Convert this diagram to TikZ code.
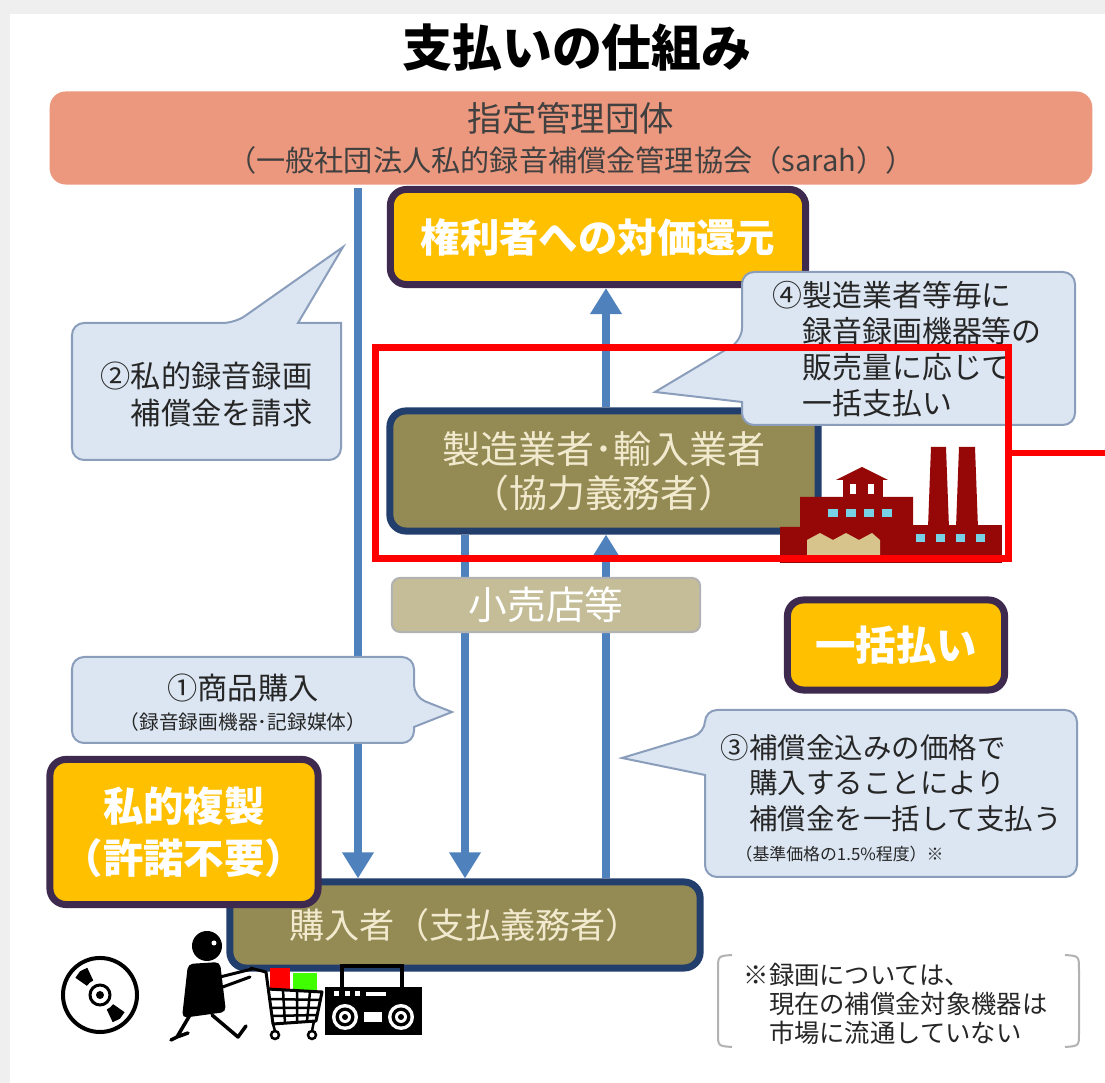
\documentclass[tikz,border=0pt]{standalone}
\usepackage{fontspec}
\setmainfont{Noto Sans CJK JP}
\usepackage{tikz}
\usetikzlibrary{positioning}
\usetikzlibrary{arrows.meta}
\definecolor{salmon}{RGB}{236,152,126}
\definecolor{gold}{RGB}{255,192,0}
\definecolor{plum}{RGB}{62,42,78}
\definecolor{olivebox}{RGB}{148,138,84}
\definecolor{navyline}{RGB}{34,62,108}
\definecolor{cream}{RGB}{242,234,206}
\definecolor{shopfill}{RGB}{196,189,151}
\definecolor{talkfill}{RGB}{220,230,242}
\definecolor{talkline}{RGB}{138,158,188}
\definecolor{flowblue}{RGB}{79,129,189}
\definecolor{factory}{RGB}{150,8,8}
\definecolor{window}{RGB}{120,210,230}
\definecolor{wall}{RGB}{215,196,140}
\definecolor{frame}{RGB}{239,239,239}

\begin{document}
\begin{tikzpicture}[x=0.01cm, y=-0.01cm,
box/.style={rounded corners=0.16cm, line width=0.07cm, align=center, inner sep=0},
goldbox/.style={box, fill=gold, draw=plum, text=white},
olive/.style={box, fill=olivebox, draw=navyline, text=cream},
talk/.style={fill=talkfill, draw=talkline, line width=0.02cm},
flow/.style={draw=flowblue, line width=0.07cm, -{Triangle[width=0.3cm,length=0.26cm]}}]
\useasboundingbox (0,0) rectangle (1105,1083);
\fill[frame] (0,0) rectangle (1105,1083);
\fill[white] (10,14) rectangle (1105,1083);

\node[font=\fontsize{14.2}{16}\selectfont\bfseries] (title) at (577,48) {支払いの仕組み};

% boxes
\node[box, fill=salmon, draw=none, text=black!75, minimum width=10.42cm, minimum height=0.93cm,
  font=\fontsize{8.3}{11.4}\selectfont] (sarah) at (571,138)
  {{\fontsize{9.8}{11.4}\selectfont 指定管理団体}\\（一般社団法人私的録音補償金管理協会（sarah））};
\node[goldbox, minimum width=4.15cm, minimum height=0.95cm, font=\fontsize{11.2}{13}\selectfont\bfseries] (kenri) at (598,237) {権利者への対価還元};
\node[olive, minimum width=4.28cm, minimum height=1.2cm, font=\fontsize{10.8}{12.5}\selectfont] (maker) at (604,471) {製造業者･輸入業者\\（協力義務者）};
\node[olive, minimum width=4.7cm, minimum height=0.86cm, font=\fontsize{10}{12}\selectfont] (buyer) at (465,925) {購入者（支払義務者）};

% money and goods
\coordinate (c1) at (358,0);
\coordinate (c2) at (465,0);
\coordinate (c3) at (606,0);
\draw[flow] (c1 |- sarah.south) -- (c1 |- buyer.north);
\draw[flow] (c2 |- maker.south) -- (c2 |- buyer.north);
\draw[flow] (c3 |- buyer.north) -- (c3 |- maker.south);
\draw[flow] (c3 |- maker.north) -- (c3 |- kenri.south);

\node[box, line width=0.02cm, fill=shopfill, draw=gray!60, text=white, rounded corners=0.08cm,
  minimum width=3.08cm, minimum height=0.54cm, font=\fontsize{11}{13}\selectfont] (shop) at (546,605) {小売店等};
\node[goldbox, minimum width=2.17cm, minimum height=0.9cm, font=\fontsize{11.5}{14}\selectfont\bfseries] (lump) at (896,645) {一括払い};
\node[goldbox, minimum width=2.68cm, minimum height=1.45cm, font=\fontsize{11.5}{14.8}\selectfont\bfseries] (private) at (184,832) {私的複製\\（許諾不要）};

% callouts
\draw[talk] (72,390) [rounded corners=0.12cm] |- (235,323) [sharp corners] -- (343,247) -- (298,323) -- (341,323) [rounded corners=0.12cm] |- (72,460) -- cycle;
\node[anchor=west, align=left, inner sep=0, text=black!85, font=\fontsize{8.6}{10.5}\selectfont] (claim) at (100,394) {②私的録音録画\\　補償金を請求};

\draw[talk] (900,272) [rounded corners=0.12cm] -| (742,340) [sharp corners] -- (655,392) -- (742,402) -- (742,404) [rounded corners=0.12cm] |- (1075,425) |- (890,272) -- cycle;
\node[anchor=west, align=left, inner sep=0, text=black!85, font=\fontsize{8.5}{10.2}\selectfont] (payout) at (772,349) {④製造業者等毎に\\　録音録画機器等の\\　販売量に応じて\\　一括支払い};

\draw[talk] (240,657) [rounded corners=0.12cm] -| (414,697) [sharp corners] -- (452,712) -- (414,727) -- (414,729) [rounded corners=0.12cm] |- (72,743) |- (230,657) -- cycle;
\node[align=center, inner sep=0, text=black!85, font=\fontsize{5.6}{8.5}\selectfont] (goods) at (243,703) {{\fontsize{8.6}{8.5}\selectfont ①商品購入}\\（録音録画機器･記録媒体）};

\draw[talk] (890,710) [rounded corners=0.12cm] -| (705,733) [sharp corners] -- (622,758) -- (705,775) -- (705,777) [rounded corners=0.12cm] |- (1077,877) |- (880,710) -- cycle;
\node[anchor=west, align=left, inner sep=0, text=black!85, font=\fontsize{8.1}{10.2}\selectfont] (price) at (720,798) {③補償金込みの価格で\\　購入することにより\\　補償金を一括して支払う\\[-1.5pt]{\fontsize{4.8}{6}\selectfont\hspace*{0.15cm}（基準価格の1.5\%程度）※}};

% factory
\fill[factory] (931,447) -- (946,447) -- (949,528) -- (928,528) -- cycle;
\fill[factory] (959,447) -- (975,447) -- (978,528) -- (956,528) -- cycle;
\fill[factory] (913,525) rectangle (1002,560);
\fill[factory] (800,497) -- (913,497) -- (913,560) -- (780,560) -- (780,527) -- (800,527) -- cycle;
\fill[factory] (843,478) rectangle (883,500);
\fill[factory] (836,480) -- (862,467) -- (888,480) -- cycle;
\fill[white] (850,484) rectangle (856,494);
\fill[white] (868,484) rectangle (874,494);
\fill[wall] (807,560) -- (807,540) -- (820,533) -- (833,540) -- (846,533) -- (859,540) -- (872,533) -- (880,540) -- (880,560) -- cycle;
\fill[factory] (780,555) rectangle (1002,563);
\foreach \wx in {828,846,864,882} \fill[window] (\wx,509) rectangle ++(10,8);
\foreach \wx in {916,936,956,976} \fill[window] (\wx,534) rectangle ++(9,8);

% CD
\begin{scope}[shift={(100,995)}]
\draw[line width=0.04cm] (0,0) circle (0.37cm);
\draw[line width=0.03cm] (0,0) circle (0.1cm);
\fill (0,0) circle (0.04cm);
\fill (115:0.16cm) -- (115:0.3cm) -- (130:0.31cm) -- (145:0.3cm) -- (145:0.16cm) -- (130:0.16cm) -- cycle;
\fill (-65:0.16cm) -- (-65:0.3cm) -- (-50:0.31cm) -- (-35:0.3cm) -- (-35:0.16cm) -- (-50:0.16cm) -- cycle;
\end{scope}

% shopper with cart
\fill[red] (270,968) rectangle (290,990);
\fill[green!75!yellow] (293,973) rectangle (317,992);
\fill (207,946) circle (0.15cm);
\fill[white] (214,943) circle (0.025cm);
\fill[rounded corners=0.05cm] (188,964) -- (220,962) -- (226,1012) -- (182,1018) -- cycle;
\draw[line width=0.035cm, line cap=round, line join=round] (190,1015) -- (177,1037) -- (171,1040) (177,1037) -- (188,1033);
\draw[line width=0.035cm, line cap=round, line join=round] (212,1015) -- (238,1037) -- (246,1026);
\draw[line width=0.03cm, line cap=round] (216,978) -- (252,969) (220,988) -- (250,977);
\draw[line width=0.03cm, line join=round] (250,968) -- (266,972) -- (273,1024) -- (316,1021) -- (322,992) -- (267,989);
\draw[line width=0.025cm] (269,999) -- (320,1000) (270,1008) -- (318,1008) (272,1016) -- (317,1015);
\draw[line width=0.025cm] (283,990) -- (285,1023) (297,991) -- (297,1022) (310,992) -- (307,1021);
\draw[line width=0.025cm] (273,1024) -- (275,1031) (314,1021) -- (312,1031);
\draw[line width=0.025cm] (275,1035) circle (0.04cm) (312,1035) circle (0.04cm);

% radio
\draw[line width=0.04cm] (342,987) -- (342,966) -- (402,966) -- (402,987);
\fill (325,987) rectangle (422,1035);
\foreach \sx in {345,401} {
  \fill[white] (\sx,1017) circle (0.13cm);
  \fill (\sx,1017) circle (0.095cm);
  \fill[white] (\sx,1017) circle (0.06cm);
  \fill (\sx,1017) circle (0.03cm);
}
\fill[white] (364,1012) rectangle (382,1022);
\foreach \dx in {334,345,355} \fill[white] (\dx,991) rectangle ++(5,5);
\fill[white] (366,992) rectangle (386,996);

% note
\draw[gray!60, line width=0.02cm] (732,955) .. controls (718,956) .. (718,970) -- (718,1033) .. controls (718,1046) .. (732,1047);
\draw[gray!60, line width=0.02cm] (1065,955) .. controls (1079,956) .. (1079,970) -- (1079,1033) .. controls (1079,1046) .. (1065,1047);
\node[anchor=west, align=left, inner sep=0, text=black!85, font=\fontsize{7.2}{8.3}\selectfont] (note) at (743,1004) {※録画については、\\　現在の補償金対象機器は\\　市場に流通していない};

% highlight
\node[draw=red, line width=0.07cm, minimum width=6.32cm, minimum height=2.1cm, inner sep=0] (focus) at (692,453) {};
\coordinate (edge) at (1105,0);
\draw[red, line width=0.06cm] (focus.east) -- (focus.east -| edge);
\end{tikzpicture}
\end{document}
